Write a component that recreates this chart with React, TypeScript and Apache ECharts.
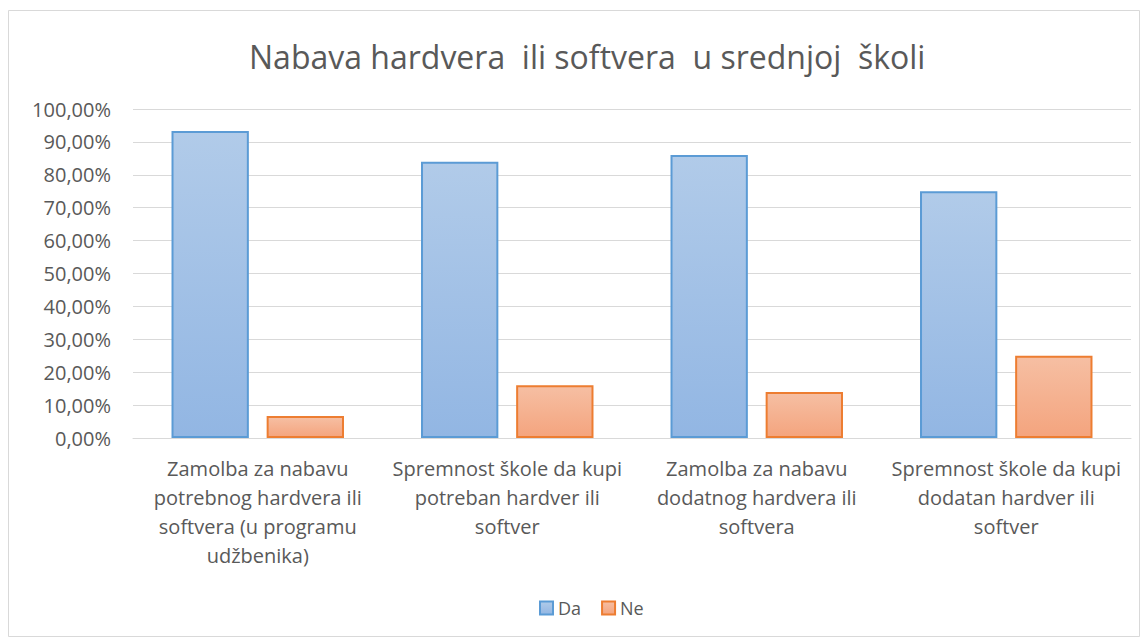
import React, { useEffect, useRef } from "react";
import * as echarts from "echarts";

const categories = [
  "Zamolba za nabavu\npotrebnog hardvera ili\nsoftvera (u programu\nudžbenika)",
  "Spremnost škole da kupi\npotreban hardver ili\nsoftver",
  "Zamolba za nabavu\ndodatnog hardvera ili\nsoftvera",
  "Spremnost škole da kupi\ndodatan hardver ili\nsoftver",
];
const daValues = [93.33, 84.0, 86.0, 75.0];
const neValues = [6.67, 16.0, 14.0, 25.0];
const seriesNames = ["Da", "Ne"];
const title = "Nabava hardvera  ili softvera  u srednjoj  školi";

const FONT = "'Open Sans', sans-serif";

export default function App() {
  const ref = useRef<HTMLDivElement>(null);
  useEffect(() => {
    const chart = echarts.init(ref.current!, null, { renderer: "svg" });
    const grad = (top: string, bottom: string) =>
      new echarts.graphic.LinearGradient(0, 0, 0, 1, [
        { offset: 0, color: top },
        { offset: 1, color: bottom },
      ]);
    chart.setOption({
      animation: false,
      backgroundColor: "#ffffff",
      textStyle: { fontFamily: FONT },
      graphic: [
        {
          type: "rect",
          shape: { x: 8.5, y: 10.5, width: 1131, height: 626 },
          style: { fill: "none", stroke: "#d9d9d9", lineWidth: 1 },
          silent: true,
        },
      ],
      title: {
        text: title,
        left: 244,
        top: 35,
        textStyle: { color: "#595959", fontSize: 32, fontWeight: "normal", fontFamily: FONT },
      },
      legend: {
        data: seriesNames,
        bottom: 21,
        left: 534,
        icon: "rect",
        itemWidth: 13,
        itemHeight: 13,
        itemGap: 20,
        textStyle: { color: "#595959", fontSize: 18, fontFamily: FONT },
      },
      grid: { left: 133, right: 17, top: 109, bottom: 205, containLabel: false },
      xAxis: {
        type: "category",
        data: categories,
        axisLine: { lineStyle: { color: "#d9d9d9", width: 1 } },
        axisTick: { show: false },
        axisLabel: {
          color: "#595959",
          fontSize: 20,
          lineHeight: 29,
          margin: 16,
          interval: 0,
          fontFamily: FONT,
        },
      },
      yAxis: {
        type: "value",
        min: 0,
        max: 100,
        interval: 10,
        axisLine: { show: false },
        axisTick: { show: false },
        splitLine: { lineStyle: { color: "#d9d9d9", width: 1 } },
        axisLabel: {
          color: "#595959",
          fontSize: 20,
          margin: 22,
          fontFamily: FONT,
          formatter: (v: number) => v.toFixed(2).replace(".", ",") + "%",
        },
      },
      series: [
        {
          name: seriesNames[0],
          type: "bar",
          data: daValues,
          barWidth: "31%",
          barGap: "23%",
          itemStyle: {
            color: grad("#b1cbe9", "#92b6e3"),
            borderColor: "#5b9bd5",
            borderWidth: 2,
          },
        },
        {
          name: seriesNames[1],
          type: "bar",
          data: neValues,
          barWidth: "31%",
          itemStyle: {
            color: grad("#f6bfa3", "#f4a47e"),
            borderColor: "#ed7d31",
            borderWidth: 2,
          },
        },
      ],
    });
    return () => chart.dispose();
  }, []);
  return (
    <div
      ref={ref}
      style={{ position: "absolute", left: 0, top: 0, width: 1148, height: 643 }}
    />
  );
}
